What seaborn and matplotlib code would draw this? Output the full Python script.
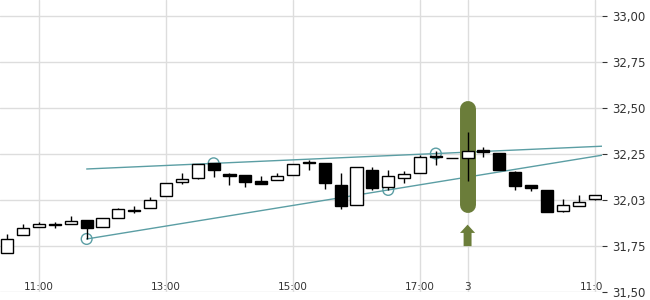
import numpy as np
import matplotlib
matplotlib.use("Agg")
import matplotlib.pyplot as plt
import seaborn as sns

# 15 min candles, day 2 10:30 -> 17:30, day 3 09:00 -> 11:00
opens = [31.710, 31.808, 31.852, 31.870, 31.868, 31.891, 31.852, 31.901, 31.946, 31.955,
         32.020, 32.096, 32.118, 32.199, 32.141, 32.136, 32.102, 32.107, 32.136, 32.207,
         32.199, 32.082, 31.971, 32.163, 32.069, 32.118, 32.145, 32.239, 32.228, 32.227,
         32.272, 32.254, 32.151, 32.082, 32.054, 31.939, 31.966, 32.004]
closes = [31.786, 31.846, 31.868, 31.861, 31.886, 31.846, 31.901, 31.949, 31.938, 31.998,
          32.091, 32.112, 32.194, 32.159, 32.129, 32.094, 32.085, 32.127, 32.196, 32.197,
          32.091, 31.966, 32.178, 32.061, 32.129, 32.140, 32.232, 32.232, 32.228, 32.265,
          32.257, 32.159, 32.074, 32.064, 31.933, 31.971, 31.988, 32.026]
highs = [31.814, 31.868, 31.879, 31.877, 31.909, 31.891, 31.901, 31.955, 31.964, 32.016,
         32.091, 32.143, 32.194, 32.199, 32.147, 32.136, 32.129, 32.143, 32.196, 32.216,
         32.199, 32.147, 32.178, 32.179, 32.163, 32.158, 32.245, 32.263, 32.228, 32.370,
         32.286, 32.254, 32.158, 32.082, 32.054, 32.005, 32.027, 32.026]
lows = [31.710, 31.808, 31.852, 31.846, 31.868, 31.786, 31.852, 31.901, 31.928, 31.955,
        32.020, 32.083, 32.113, 32.121, 32.080, 32.067, 32.085, 32.107, 32.136, 32.161,
        32.056, 31.947, 31.971, 32.054, 32.054, 32.091, 32.145, 32.189, 32.228, 32.099,
        32.232, 32.159, 32.051, 32.045, 31.933, 31.933, 31.966, 32.000]

# x axis labels
tick_idx = [2, 10, 18, 26, 29, 37]
tick_labels = ["11:00", "13:00", "15:00", "17:00", "3", "11:00"]

# y axis (last price shown instead of 32,00)
y_ticks = [31.50, 31.75, 32.00, 32.25, 32.50, 32.75, 33.00]
y_labels = ["31,50", "31,75", "32,03", "32,25", "32,50", "32,75", "33,00"]

# trend lines (start / right edge)
upper_x = [5, 37.47]
upper_y = [32.167, 32.291]
lower_x = [5, 37.47]
lower_y = [31.786, 32.242]
# anchor points on the lines
anchor_x = [13, 27, 5, 24]
anchor_y = [32.198, 32.251, 31.786, 32.053]

# highlighted candle
signal_idx = 29
signal_top = 32.495
signal_bottom = 31.973
arrow_base = 31.747
arrow_tip = 31.864

teal = "#5b9ea4"
olive = "#6b7d3a"

sns.set_style("white")
plt.rcParams['font.family'] = ['DejaVu Sans']

fig = plt.figure(figsize=(6.5, 3), dpi=100)
ax = fig.add_axes([0, 8.5 / 300, 602 / 650, 291.5 / 300])

x = np.arange(len(opens))
o = np.array(opens)
c = np.array(closes)

# trend lines + anchors
sns.lineplot(x=upper_x, y=upper_y, ax=ax, color=teal, lw=1, zorder=2)
sns.lineplot(x=lower_x, y=lower_y, ax=ax, color=teal, lw=1, zorder=2)
sns.scatterplot(x=anchor_x, y=anchor_y, ax=ax, s=60, facecolor="none",
                edgecolor=teal, linewidth=1, zorder=2)

# signal highlight
ax.plot([signal_idx, signal_idx], [signal_bottom, signal_top], color=olive,
        lw=11.5, solid_capstyle="round", zorder=3)
ax.arrow(signal_idx, arrow_base, 0, arrow_tip - arrow_base, width=0.5,
         head_width=0.95, head_length=0.045, length_includes_head=True,
         color=olive, lw=0, zorder=3)

# candles
ax.vlines(x, lows, highs, color="black", lw=1, zorder=4)
fills = np.where(c >= o, "white", "black")
ax.bar(x, c - o, bottom=o, width=0.76, color=fills, edgecolor="black",
       linewidth=1, zorder=5)

ax.set_xlim(-0.46, 37.47)
ax.set_ylim(31.5, 33.087)

ax.set_xticks(tick_idx)
ax.set_xticklabels([])
ax.set_yticks(y_ticks)
ax.set_yticklabels(y_labels)
ax.yaxis.tick_right()
ax.grid(True, color="#dddddd", lw=1)
ax.set_axisbelow(True)
for s in ax.spines.values():
    s.set_visible(False)
ax.tick_params(axis="y", length=3.5, width=0.8, color="#333333", pad=3.5,
               labelsize=8.5, labelcolor="#333333")
ax.tick_params(axis="x", length=3, width=0.8, color="#555555", direction="out")

for i, lab in zip(tick_idx, tick_labels):
    ax.text(i, 31.507, lab, ha="center", va="baseline", fontsize=7.5,
            color="#333333", clip_on=True, zorder=6)

ax.set_xlabel("")
ax.set_ylabel("")
fig.savefig("out.png", dpi=100)
